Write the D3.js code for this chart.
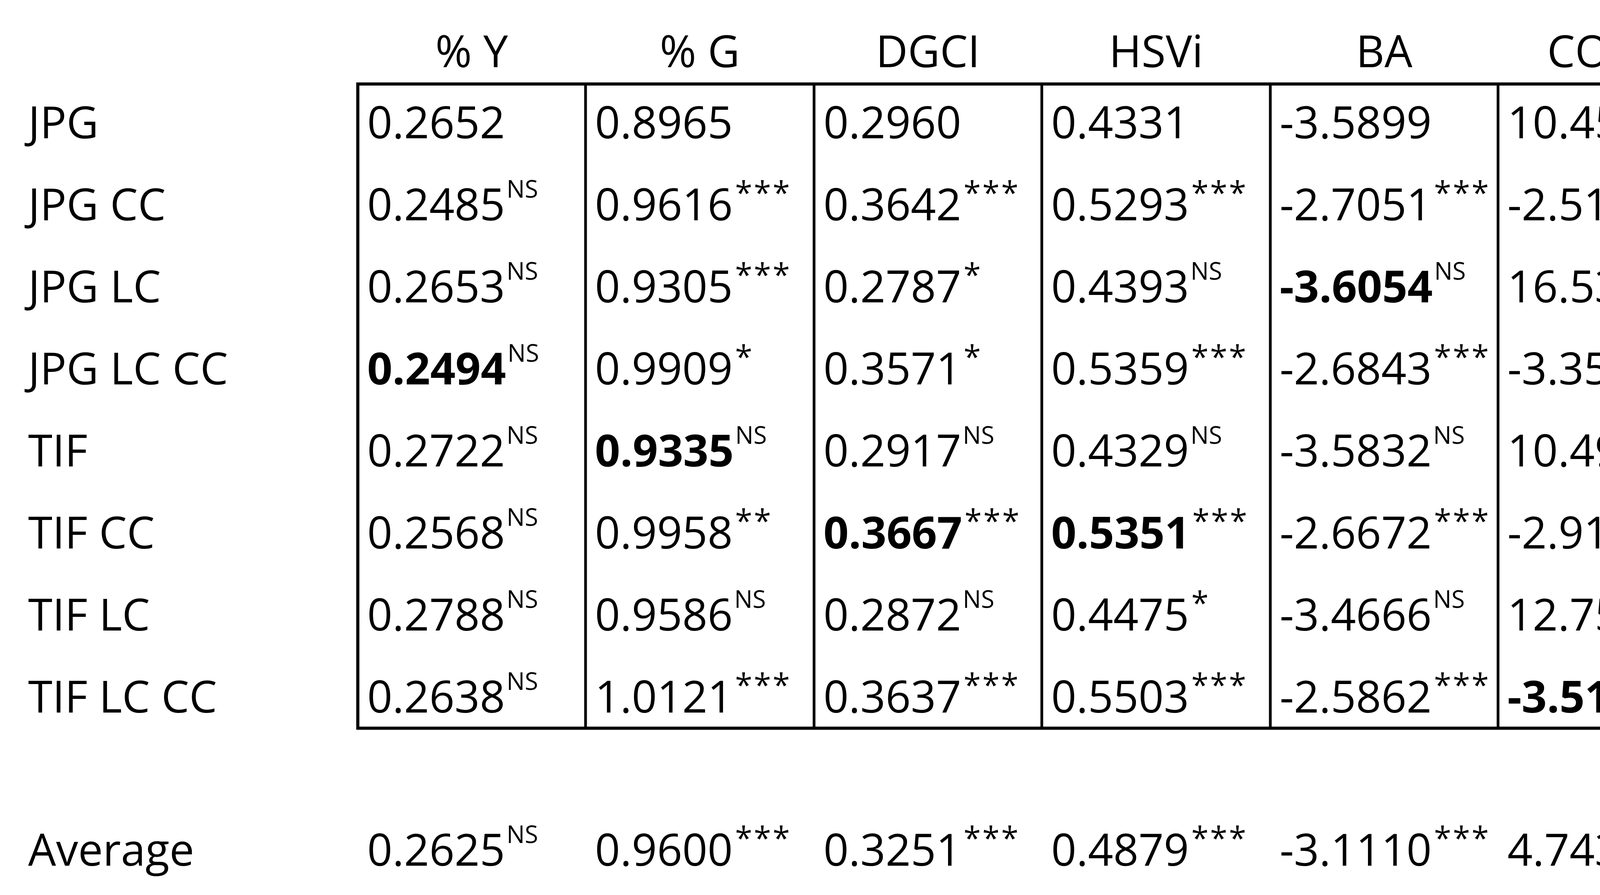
<!DOCTYPE html>
<html><head><meta charset="utf-8">
<script src="https://cdn.jsdelivr.net/npm/d3@7"></script>
<style>body{margin:0;background:#fff}</style></head>
<body><svg id="c" width="4546" height="2291"></svg>
<script>
const columns = ["% Y","% G","DGCI","HSVi","BA","COMB2"];
const rowLabels = ["JPG","JPG CC","JPG LC","JPG LC CC","TIF","TIF CC","TIF LC","TIF LC CC"];
const values = [
 ["0.2652","0.8965","0.2960","0.4331","-3.5899","10.4521"],
 ["0.2485","0.9616","0.3642","0.5293","-2.7051","-2.5148"],
 ["0.2653","0.9305","0.2787","0.4393","-3.6054","16.5374"],
 ["0.2494","0.9909","0.3571","0.5359","-2.6843","-3.3534"],
 ["0.2722","0.9335","0.2917","0.4329","-3.5832","10.4991"],
 ["0.2568","0.9958","0.3667","0.5351","-2.6672","-2.9138"],
 ["0.2788","0.9586","0.2872","0.4475","-3.4666","12.7586"],
 ["0.2638","1.0121","0.3637","0.5503","-2.5862","-3.5182"]];
const sig = [
 ["","","","","",""],
 ["NS","***","***","***","***","***"],
 ["NS","***","*","NS","NS","***"],
 ["NS","*","*","***","***","***"],
 ["NS","NS","NS","NS","NS","NS"],
 ["NS","**","***","***","***","***"],
 ["NS","NS","NS","*","NS","NS"],
 ["NS","***","***","***","***","***"]];
const bold = [[3,0],[4,1],[5,2],[5,3],[2,4],[7,5]];
const avgLabel = "Average";
const avgValues = ["0.2625","0.9600","0.3251","0.4879","-3.1110","4.7434"];
const avgSig = ["NS","***","***","***","***","***"];

const svg = d3.select("#c");
const font = "'Open Sans', sans-serif";
const colEdges = [916,1499,2084,2667,3252,3835,4485];
const x = d3.scaleOrdinal().domain(columns).range(colEdges.slice(0,6));
const y = d3.scalePoint().domain(rowLabels).range([313,1783]);
const tableTop = 215, tableBottom = 1864, fs = 113;

svg.selectAll(".hdr").data(columns).join("text")
 .attr("x",(d,i)=>(colEdges[i]+colEdges[i+1])/2).attr("y",172)
 .attr("text-anchor","middle").attr("font-family",font).attr("font-size",fs).text(d=>d);

const isBold=(r,c)=>bold.some(b=>b[0]===r&&b[1]===c);
function cell(g,xx,yy,val,s,b){
  const t=g.append("text").attr("x",xx).attr("y",yy).attr("font-family",font).attr("font-size",fs);
  t.append("tspan").attr("font-weight",b?"bold":"normal").text(val);
  if(s){
    const st=s==="NS";
    t.append("tspan").attr("font-size",st?62:80).attr("dy",st?-58:-42).attr("dx",st?4:6)
     .attr("letter-spacing",st?0:4).text(s);
  }
}
rowLabels.forEach((r,ri)=>{
  svg.append("text").attr("x",72).attr("y",y(r)+41).attr("font-family",font).attr("font-size",fs).text(r);
  columns.forEach((c,ci)=>cell(svg,x(c)+24,y(r)+41,values[ri][ci],sig[ri][ci],isBold(ri,ci)));
});
svg.append("text").attr("x",72).attr("y",2216).attr("font-family",font).attr("font-size",fs).text(avgLabel);
columns.forEach((c,ci)=>cell(svg,x(c)+24,2216,avgValues[ci],avgSig[ci],false));

svg.append("rect").attr("x",916).attr("y",tableTop).attr("width",4485-916).attr("height",tableBottom-tableTop)
 .attr("fill","none").attr("stroke","#000").attr("stroke-width",8);
colEdges.slice(1,6).forEach(e=>svg.append("line").attr("x1",e).attr("x2",e).attr("y1",tableTop).attr("y2",tableBottom)
 .attr("stroke","#000").attr("stroke-width",7));
</script></body></html>
